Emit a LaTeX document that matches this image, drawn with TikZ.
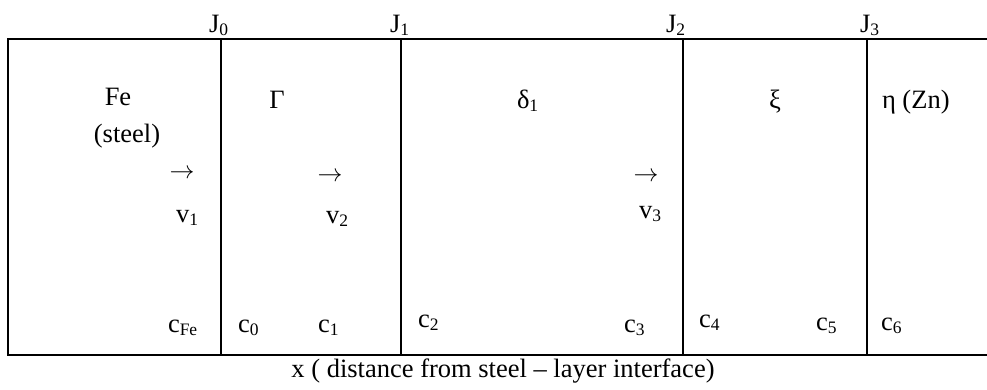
\documentclass[tikz,border=0pt]{standalone}
\usepackage{fontspec}
\setmainfont{Liberation Serif}
\usetikzlibrary{positioning}
\newcommand\lowidx[1]{\raisebox{-3pt}{\fontsize{17.5}{17.5}\selectfont #1}}
\tikzset{
  every picture/.style={line width=2pt},
  lbl/.style={inner sep=0pt, anchor=base west, font=\fontsize{26.5}{30}\selectfont},
  mid/.style={lbl, anchor=base},
  flow/.style={inner sep=0pt, anchor=center, font=\fontsize{29}{30}\selectfont},
}
\begin{document}
\begin{tikzpicture}[x=1pt, y=-1pt]
  \useasboundingbox (0,0) rectangle (987,389);
  % layer box, open on the right
  \coordinate (tl) at (8,39);
  \coordinate (bl) at (8,355);
  \draw (987,39) -- (tl) -- (bl) -- (987,355);
  % interfaces
  \foreach \xi/\nm in {221/0, 401/1, 683/2, 867/3} {
    \coordinate (top\nm) at (\xi,39);
    \coordinate (bot\nm) at (\xi,355);
    \draw (top\nm) -- (bot\nm);
  }
  % fluxes at the interfaces
  \node[lbl] (J0) at (208,32) {J\lowidx{0}};
  \node[lbl] (J1) at (389,32) {J\lowidx{1}};
  \node[lbl] (J2) at (665,32) {J\lowidx{2}};
  \node[lbl] (J3) at (859,32) {J\lowidx{3}};
  % phases
  \node[mid] (fe) at (118,105) {Fe};
  \node[mid] (steel) at (127,142) {(steel)};
  \node[mid] (gamma) at (277,108) {Γ};
  \node[lbl] (delta) at (516,108) {δ\lowidx{1}};
  \node[mid] (xi) at (775,108) {ξ};
  \node[lbl] (eta) at (881,108) {η (Zn)};
  % interface velocities
  \node[flow] (a1) at (182,174) {$\rightarrow$};
  \node[flow] (a2) at (330,177) {$\rightarrow$};
  \node[flow] (a3) at (646,177) {$\rightarrow$};
  \node[lbl] (v1) at (175,222) {v\lowidx{1}};
  \node[lbl] (v2) at (325,223) {v\lowidx{2}};
  \node[lbl] (v3) at (638,218) {v\lowidx{3}};
  % concentrations
  \node[lbl] (cfe) at (167,332) {c\lowidx{Fe}};
  \node[lbl] (c0) at (237,332) {c\lowidx{0}};
  \node[lbl] (c1) at (317,332) {c\lowidx{1}};
  \node[lbl] (c2) at (417,327) {c\lowidx{2}};
  \node[lbl] (c3) at (623,332) {c\lowidx{3}};
  \node[lbl] (c4) at (698,327) {c\lowidx{4}};
  \node[lbl] (c5) at (815,330) {c\lowidx{5}};
  \node[lbl] (c6) at (880,330) {c\lowidx{6}};
  \node[mid] (axis) at (503,377) {x ( distance from steel – layer interface)};
\end{tikzpicture}
\end{document}
